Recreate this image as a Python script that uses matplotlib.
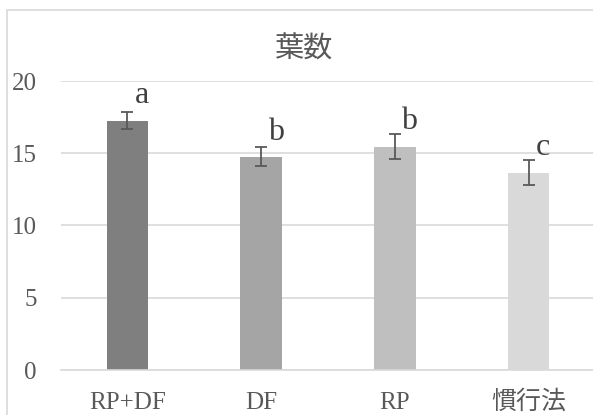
import matplotlib.pyplot as plt

plt.rcParams['font.family'] = ['Liberation Serif', 'Noto Sans CJK JP']

# data
categories = ['RP+DF', 'DF', 'RP', '慣行法']
means = [17.25, 14.75, 15.45, 13.65]
errors = [0.6, 0.65, 0.85, 0.85]
letters = ['a', 'b', 'b', 'c']
colors = ['#7f7f7f', '#a5a5a5', '#bfbfbf', '#d9d9d9']
yticks = [0, 5, 10, 15, 20]

fig = plt.figure(figsize=(5.93, 4.15), dpi=100)

# chart border (right/bottom are cropped in the reference)
fig.add_artist(plt.Rectangle((7 / 593, -0.05), 1.0, (415 - 10) / 415 + 0.05,
                             transform=fig.transFigure, fill=False,
                             edgecolor='#d9d9d9', linewidth=1.2))

ax = fig.add_axes([60.5 / 593, 45 / 415, 535 / 593, 289 / 415])

x = range(len(categories))
ax.bar(x, means, width=0.31, color=colors, zorder=2)
ax.errorbar(x, means, yerr=errors, fmt='none', ecolor='#595959',
            elinewidth=1.3, capsize=4.4, capthick=1.3, zorder=3)

for i, (m, lab) in enumerate(zip(means, letters)):
    ax.annotate(lab, (i, m), xytext=(10.5, 12.5), textcoords='offset points',
                ha='center', va='baseline', fontsize=23, color='#404040')

ax.set_xlim(-0.5, 3.5)
ax.set_ylim(0, 20)
ax.set_yticks(yticks)
ax.set_xticks(list(x))
ax.set_xticklabels(categories)
ax.yaxis.grid(True, color='#d9d9d9', linewidth=1.2, zorder=0)
ax.set_axisbelow(True)
for s in ['top', 'right', 'left']:
    ax.spines[s].set_visible(False)
ax.spines['bottom'].set_color('#d9d9d9')
ax.spines['bottom'].set_linewidth(1.2)

ax.tick_params(axis='y', length=0, pad=17, labelsize=18, labelcolor='#595959')
ax.tick_params(axis='x', length=0, pad=28, labelsize=18, labelcolor='#595959')
for t in ax.get_xticklabels():
    t.set_va('baseline')

fig.text(303 / 593, (415 - 50) / 415, '葉数', ha='center', va='center',
         fontsize=21, color='#595959')

plt.savefig('out.png', dpi=100)
